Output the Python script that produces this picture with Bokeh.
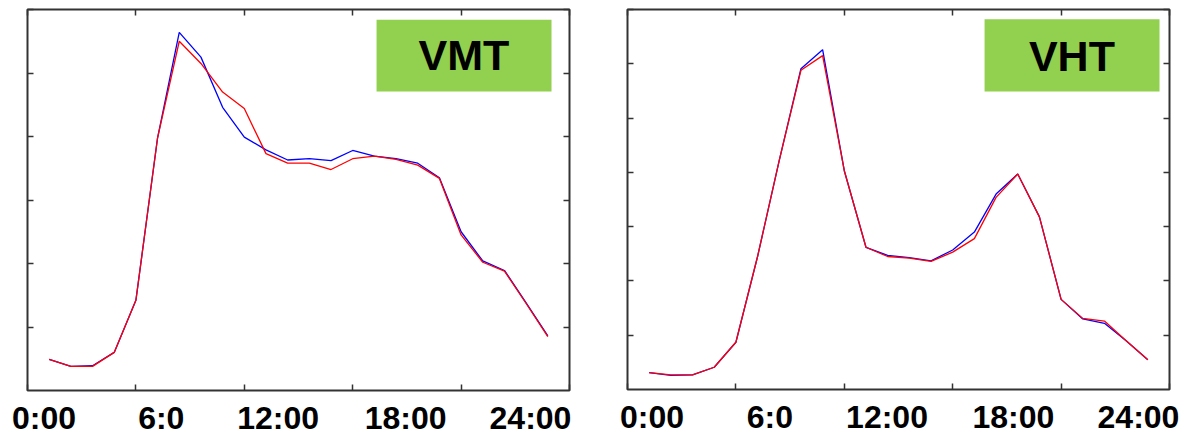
from bokeh.plotting import figure
from bokeh.layouts import row
from bokeh.models import (LinearAxis, FixedTicker, BoxAnnotation, Label,
                          ColumnDataSource, CustomLabelingPolicy)
from bokeh.core.properties import value
from bokeh.embed import file_html
from bokeh.resources import INLINE

# Hourly profile, hours 1..24
hours = list(range(1, 25))

vmt_blue = [0.49, 0.38, 0.39, 0.60, 1.42, 3.98, 5.64, 5.25, 4.46, 3.99, 3.79, 3.63,
            3.65, 3.62, 3.78, 3.69, 3.65, 3.58, 3.35, 2.50, 2.04, 1.89, 1.38, 0.86]
vmt_red = [0.49, 0.38, 0.38, 0.60, 1.42, 3.98, 5.50, 5.15, 4.70, 4.44, 3.73, 3.58,
           3.58, 3.48, 3.65, 3.69, 3.64, 3.55, 3.34, 2.45, 2.02, 1.88, 1.37, 0.85]

vht_blue = [0.31, 0.26, 0.27, 0.41, 0.87, 2.45, 4.22, 5.91, 6.26, 4.03, 2.62, 2.47,
            2.43, 2.37, 2.57, 2.90, 3.60, 3.97, 3.18, 1.66, 1.30, 1.22, 0.90, 0.55]
vht_red = [0.31, 0.27, 0.27, 0.41, 0.87, 2.45, 4.22, 5.88, 6.15, 4.03, 2.62, 2.45,
           2.42, 2.36, 2.53, 2.78, 3.54, 3.97, 3.18, 1.66, 1.31, 1.26, 0.90, 0.55]

# Time-of-day captions under each panel
time_labels = ["0:00", "6:0", "12:00", "18:00", "24:00"]
vmt_label_pos = [0.76, 6.17, 11.56, 17.44, 23.2]
vht_label_pos = [1.13, 6.57, 11.97, 17.80, 23.57]

X_MAX = 25
x_ticks = [0, 5, 10, 15, 20, 25]

FRAME = "#333333"
FONT = "Liberation Sans"
HEIGHT = 435
CAPTION_DROP = 27   # px from the box bottom to the middle of the captions


def tick_only(axis, loc):
    # inward tick marks pinned to the box edge, no numbers
    axis.fixed_location = loc
    axis.axis_line_color = None
    axis.major_tick_in = 6
    axis.major_tick_out = 0
    axis.major_tick_line_color = FRAME
    axis.major_tick_line_width = 1.5
    axis.minor_tick_line_color = None
    axis.major_label_standoff = 0
    axis.major_label_text_font_size = "1px"
    axis.major_label_policy = CustomLabelingPolicy(code="return new Set()")


def panel(width, ymax, blue, red, label_pos, title, box, title_xy, edges):
    # edges: pixel position of the data box (left, right, top, bottom) in the canvas
    bl, br, bt, bb = edges
    ppx = (br - bl) / X_MAX
    ppy = (bb - bt) / ymax
    x_range = (-bl / ppx, X_MAX + (width - br) / ppx)
    y_range = (-(HEIGHT - bb) / ppy, ymax + bt / ppy)

    p = figure(width=width, height=HEIGHT, x_range=x_range, y_range=y_range,
               title=None, output_backend="svg", toolbar_location=None,
               min_border=0)
    p.xgrid.visible = False
    p.ygrid.visible = False
    p.outline_line_color = None
    p.background_fill_color = "white"
    p.border_fill_color = "white"

    y_ticks = list(range(1, ymax + 1))
    p.xaxis.ticker = FixedTicker(ticks=x_ticks)
    p.yaxis.ticker = FixedTicker(ticks=y_ticks)
    tick_only(p.xaxis[0], 0)
    tick_only(p.yaxis[0], 0)

    top = LinearAxis(ticker=FixedTicker(ticks=x_ticks))
    tick_only(top, ymax)
    p.add_layout(top, "above")
    right = LinearAxis(ticker=FixedTicker(ticks=y_ticks))
    tick_only(right, X_MAX)
    p.add_layout(right, "right")

    # plot box
    p.add_layout(BoxAnnotation(left=0, right=X_MAX, bottom=0, top=ymax,
                               fill_alpha=0, line_color=FRAME, line_alpha=1.0,
                               line_width=2))

    p.line(hours, blue, line_color="blue", line_width=1.3)
    p.line(hours, red, line_color="red", line_width=1.3)

    # time captions under the box
    cap_y = -CAPTION_DROP / ppy
    src = ColumnDataSource(dict(x=label_pos, y=[cap_y] * len(label_pos), text=time_labels))
    p.text(x="x", y="y", text="text", source=src, text_align="center",
           text_baseline="middle", text_font=value(FONT), text_font_style="bold",
           text_font_size="32px", text_color="black")

    p.add_layout(BoxAnnotation(left=box[0], right=box[1], bottom=box[2], top=box[3],
                               fill_color="#92D050", fill_alpha=1.0, line_color=None,
                               level="overlay"))
    p.add_layout(Label(x=title_xy[0], y=title_xy[1], text=title, text_align="center",
                       text_baseline="middle", text_font=FONT, text_font_style="bold",
                       text_font_size="43px", text_color="black", level="overlay"))
    return p


p1 = panel(598, 6, vmt_blue, vmt_red, vmt_label_pos, "VMT",
           (16.10, 24.17, 4.71, 5.84), (20.13, 5.28), (27, 569, 9, 390))
p2 = panel(597, 7, vht_blue, vht_red, vht_label_pos, "VHT",
           (16.47, 24.54, 5.49, 6.82), (20.5, 6.15), (29, 571, 9, 389))

layout = row(p1, p2)
open("out.html", "w").write(file_html(layout, INLINE))
